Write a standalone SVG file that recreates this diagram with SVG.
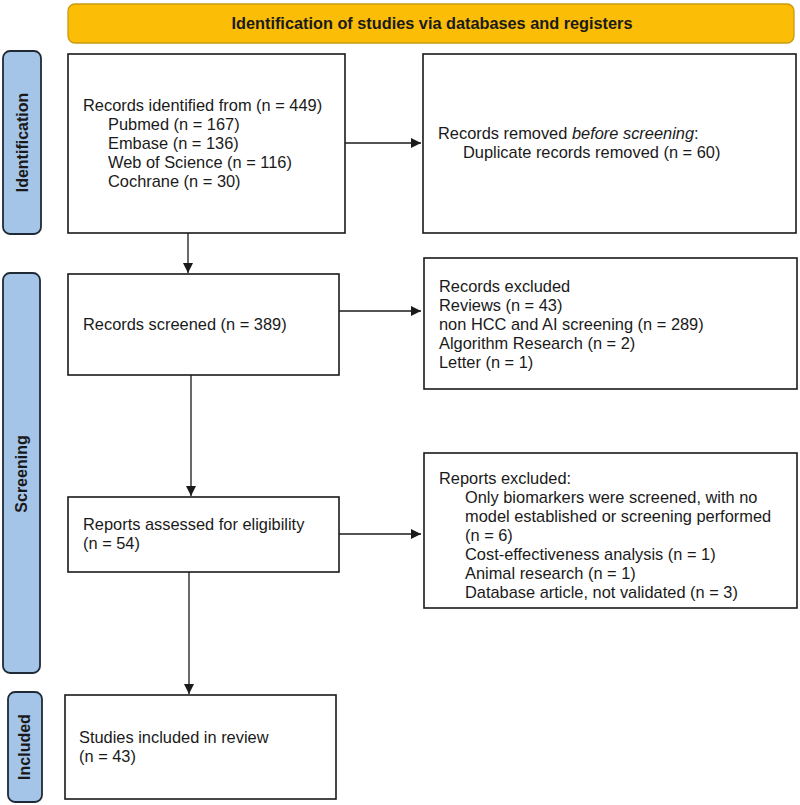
<svg xmlns="http://www.w3.org/2000/svg" width="800" height="805" viewBox="0 0 800 805">
<style>
.box{fill:#fff;stroke:#1a1a1a;stroke-width:1.6}
.side{fill:#a4c4e8;stroke:#1f2a36;stroke-width:1.8}
.t{font-family:"Liberation Sans",Arial,sans-serif;font-size:16.4px;fill:#1a1a1a}
.sl{font-family:"Liberation Sans",Arial,sans-serif;font-size:16px;font-weight:bold;fill:#1a1a1a}
.c{stroke:#1a1a1a;stroke-width:1.3;fill:none}
</style>
<defs>
<marker id="ah" viewBox="0 0 10 10" refX="10" refY="5" markerWidth="10" markerHeight="10" markerUnits="userSpaceOnUse" orient="auto">
<path d="M0,0 L10,5 L0,10 z" fill="#1a1a1a"/>
</marker>
</defs>
<rect width="800" height="805" fill="#fff"/>
<g id="banner">
<rect x="68" y="4" width="726" height="39" rx="7" fill="#fbbd06" stroke="#c99a10" stroke-width="1.3"/>
<text x="432" y="29" text-anchor="middle" font-family="'Liberation Sans',Arial,sans-serif" font-size="17" font-weight="bold" fill="#1a1a1a" textLength="401" lengthAdjust="spacingAndGlyphs">Identification of studies via databases and registers</text>
</g>
<g id="side-identification">
<rect class="side" x="3" y="51" width="38" height="183" rx="7"/>
<text class="sl" transform="translate(28,142.5) rotate(-90)" text-anchor="middle">Identification</text>
</g>
<g id="side-screening">
<rect class="side" x="3" y="273" width="37" height="400" rx="7"/>
<text class="sl" transform="translate(27,474) rotate(-90)" text-anchor="middle">Screening</text>
</g>
<g id="side-included">
<rect class="side" x="8" y="692" width="34" height="110" rx="7"/>
<text class="sl" transform="translate(30,747) rotate(-90)" text-anchor="middle">Included</text>
</g>
<g id="identified">
<rect class="box" x="68" y="54" width="277" height="179"/>
<text class="t" x="83" y="111">Records identified from (n = 449)</text>
<text class="t" x="108" y="130">Pubmed (n = 167)</text>
<text class="t" x="108" y="149">Embase (n = 136)</text>
<text class="t" x="108" y="168">Web of Science (n = 116)</text>
<text class="t" x="108" y="187">Cochrane (n = 30)</text>
</g>
<g id="removed">
<rect class="box" x="423" y="54" width="373" height="179"/>
<text class="t" x="438" y="139">Records removed <tspan font-style="italic">before screening</tspan>:</text>
<text class="t" x="463" y="158">Duplicate records removed (n = 60)</text>
</g>
<g id="screened">
<rect class="box" x="68" y="274" width="271" height="101"/>
<text class="t" x="83" y="330">Records screened (n = 389)</text>
</g>
<g id="records-excluded">
<rect class="box" x="424" y="258" width="373" height="131"/>
<text class="t" x="439" y="292">Records excluded</text>
<text class="t" x="439" y="311">Reviews (n = 43)</text>
<text class="t" x="439" y="330">non HCC and AI screening (n = 289)</text>
<text class="t" x="439" y="349">Algorithm Research (n = 2)</text>
<text class="t" x="439" y="368">Letter (n = 1)</text>
</g>
<g id="assessed">
<rect class="box" x="68" y="497" width="271" height="75"/>
<text class="t" x="83" y="530">Reports assessed for eligibility</text>
<text class="t" x="83" y="549">(n = 54)</text>
</g>
<g id="reports-excluded">
<rect class="box" x="424" y="453" width="373" height="155"/>
<text class="t" x="439" y="484">Reports excluded:</text>
<text class="t" x="465" y="503">Only biomarkers were screened, with no</text>
<text class="t" x="465" y="522">model established or screening performed</text>
<text class="t" x="465" y="541">(n = 6)</text>
<text class="t" x="465" y="560">Cost-effectiveness analysis (n = 1)</text>
<text class="t" x="465" y="579">Animal research (n = 1)</text>
<text class="t" x="465" y="598">Database article, not validated (n = 3)</text>
</g>
<g id="included">
<rect class="box" x="65" y="695" width="271" height="104"/>
<text class="t" x="79" y="743">Studies included in review</text>
<text class="t" x="79" y="762">(n = 43)</text>
</g>
<g id="connectors">
<line class="c" x1="345" y1="143" x2="421" y2="143" marker-end="url(#ah)"/>
<line class="c" x1="188" y1="233" x2="188" y2="273" marker-end="url(#ah)"/>
<line class="c" x1="339" y1="311" x2="421" y2="311" marker-end="url(#ah)"/>
<line class="c" x1="191" y1="375" x2="191" y2="496" marker-end="url(#ah)"/>
<line class="c" x1="339" y1="534" x2="421" y2="534" marker-end="url(#ah)"/>
<line class="c" x1="189" y1="572" x2="189" y2="694" marker-end="url(#ah)"/>
</g>
</svg>
